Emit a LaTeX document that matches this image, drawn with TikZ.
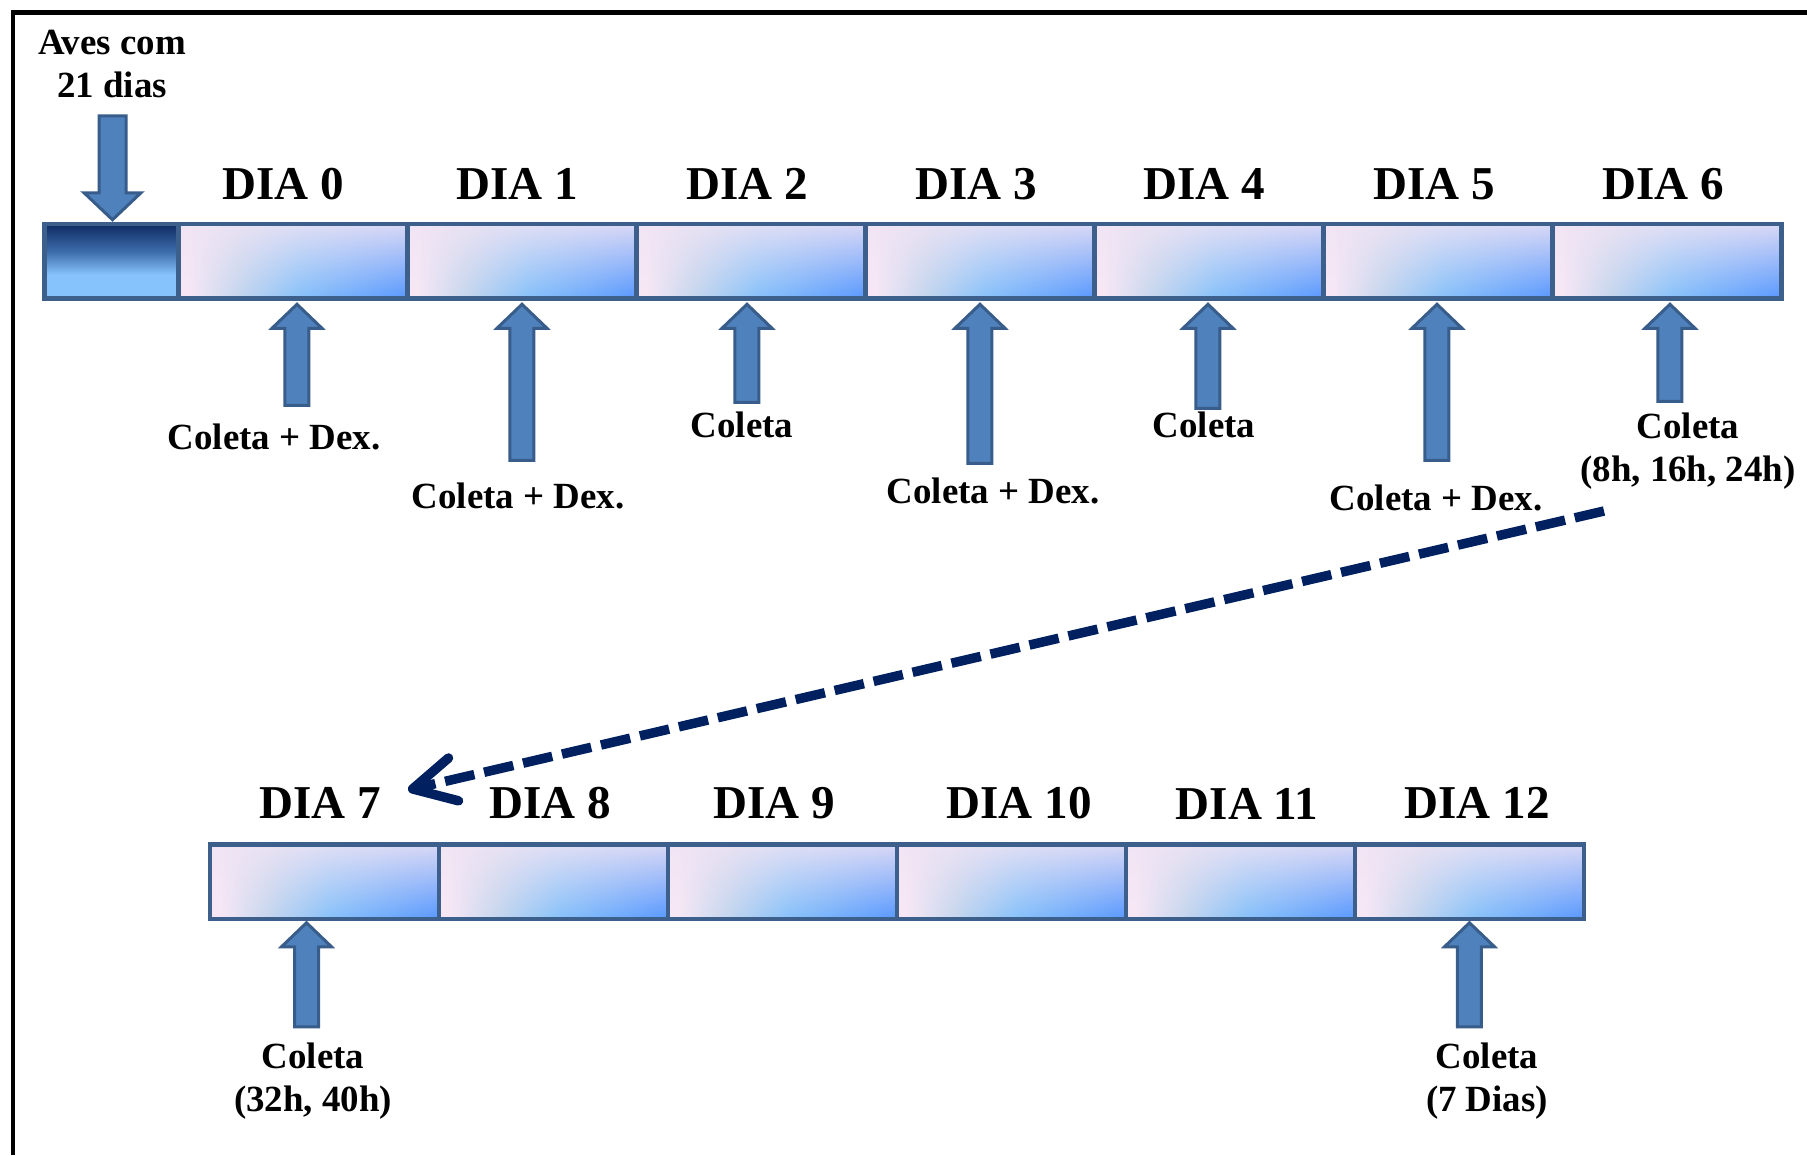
\documentclass[tikz,border=0pt]{standalone}
\usepackage{fontspec}
\setmainfont{Liberation Serif}
\usetikzlibrary{arrows.meta,calc,positioning,fadings}
\definecolor{pinkc}{RGB}{248,232,246}
\definecolor{greyc}{RGB}{196,214,238}
\definecolor{midc}{RGB}{136,194,250}
\definecolor{bluec}{RGB}{88,152,255}
\definecolor{topc}{RGB}{240,228,244}
\definecolor{segline}{RGB}{60,95,140}
\definecolor{darktop}{RGB}{14,42,98}
\definecolor{darkmid}{RGB}{62,110,172}
\definecolor{darkbot}{RGB}{134,194,251}
\definecolor{arrfill}{RGB}{79,129,189}
\definecolor{arrline}{RGB}{56,93,138}
\definecolor{navy}{RGB}{0,32,96}
% fills of the day blocks (the path covers 25bp..75bp of a shading)
\pgfdeclarehorizontalshading{dayshade}{100bp}{color(0bp)=(pinkc); color(27bp)=(pinkc); color(38bp)=(greyc); color(51bp)=(midc); color(75bp)=(bluec); color(100bp)=(bluec)}
\pgfdeclareverticalshading{darkshade}{100bp}{color(0bp)=(darkbot); color(41bp)=(darkbot); color(56bp)=(darkmid); color(75bp)=(darktop); color(100bp)=(darktop)}
\tikzfading[name=topfade,top color=transparent!15,middle color=transparent!85,bottom color=transparent!100]
\tikzset{
  frame/.style={draw=black,line width=0.5mm},
  seg/.style={draw=segline,line width=0.45mm,minimum width=22.9mm,minimum height=7.45mm,inner sep=0pt,outer sep=0pt,
    shade,shading=dayshade,
    path picture={\fill[topc,path fading=topfade] (path picture bounding box.north west) rectangle (path picture bounding box.south east);}},
  segdark/.style={draw=segline,line width=0.45mm,minimum width=13.4mm,minimum height=7.45mm,inner sep=0pt,outer sep=0pt,
    shade,shading=darkshade},
  blkarrow/.style={draw=arrline,fill=arrfill,line width=0.3mm},
  daylab/.style={font=\fontsize{13.4}{16}\selectfont\bfseries,anchor=base,inner sep=0pt},
  note/.style={font=\fontsize{10.5}{12.2}\selectfont\bfseries,align=center,inner sep=0pt},
  jump/.style={draw=navy,line width=0.95mm,dash pattern=on 3.0mm off 1.0mm,-{Straight Barb[length=4.2mm,width=4.4mm,round]}},
}

\begin{document}
\begin{tikzpicture}[x=0.1mm,y=-0.1mm]
\useasboundingbox (0,0) rectangle (1807,1155);
\draw[frame] (13,1155) |- (1807,12);

% ---- first row: arrival block + days 0..6
\node[segdark] (pre) at (111.5,261) {};
\node[seg,right=0pt of pre] (s0) {};
\foreach \i [remember=\i as \prev (initially 0)] in {1,...,6}
  \node[seg,right=0pt of s\prev] (s\i) {};

% ---- second row: days 7..12
\node[seg] (s7) at (324.5,881.5) {};
\foreach \i [remember=\i as \prev (initially 7)] in {8,...,12}
  \node[seg,right=0pt of s\prev] (s\i) {};

% day labels
\foreach \i/\x/\y in {0/283/199,1/517/199,2/747/199,3/976/199,4/1204/199,5/1434/199,6/1663/199,
                      7/320/818,8/550/818,9/774/818,10/1019/818,11/1247/819,12/1477/818}
  \node[daylab] (d\i) at (\x,\y) {DIA \i};

% arrival arrow
\node[note] (aves) at (112,64) {Aves com\\21 dias};
\coordinate (ta) at ($(pre.north)+(1,-4)$);
\draw[blkarrow] (ta) -- ++(28.5,-27) -- ++(-15,0) -- ++(0,-77) -- ++(-27,0) -- ++(0,77) -- ++(-15,0) -- cycle;

% sampling arrows under the bars
\foreach \i/\dx/\dy/\len in {0/4/6/101,1/0/6/156,2/-4/6/98,3/0/6/159,4/-1/6/104,5/-1/6/156,6/3/6/97,7/-18/4/104,12/0/4/104}{
  \coordinate (t\i) at ($(s\i.south)+(\dx,\dy)$);
  \draw[blkarrow] (t\i) -- ++(25,24) -- ++(-13,0) -- ++(0,\len-24) -- ++(-24,0) -- ++(0,24-\len) -- ++(-13,0) -- cycle;
}

% sampling notes
\foreach \i/\x/\y/\txt in {0/274/449/Coleta + Dex.,1/518/508/Coleta + Dex.,2/742/437/Coleta,
                           3/993/503/Coleta + Dex.,4/1204/437/Coleta,5/1436/510/Coleta + Dex.}
  \node[note,anchor=base] (c\i) at (\x,\y) {\txt};
\node[note] (c6) at (1688,451) {Coleta\\(8h, 16h, 24h)};
\node[note] (c7) at (313,1081) {Coleta\\(32h, 40h)};
\node[note] (c12) at (1487,1081) {Coleta\\(7 Dias)};

% jump to the second row
\coordinate (jfrom) at (1604,511);
\coordinate (jto) at (408,790);
\draw[jump] (jfrom) -- (jto);
\end{tikzpicture}
\end{document}
